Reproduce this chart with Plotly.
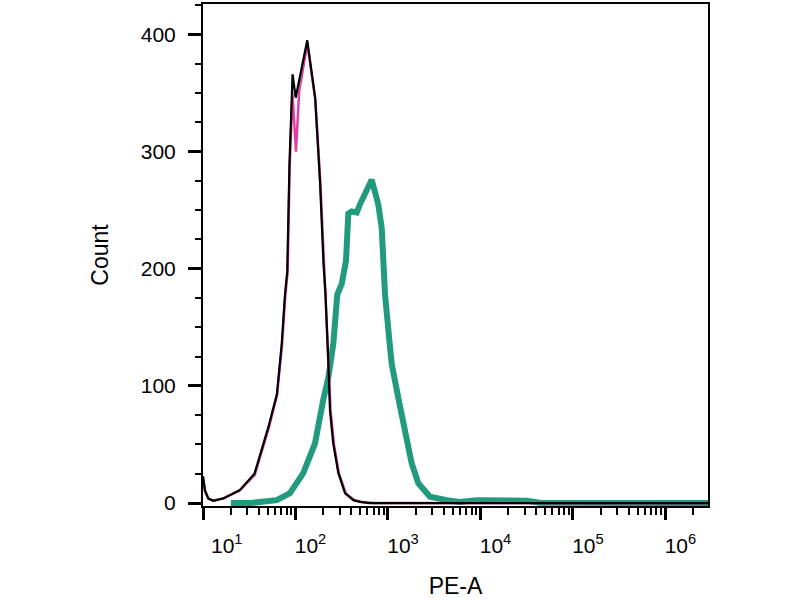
import plotly.graph_objects as go

# PE-A intensity (x) and event count (y)
black_pe = [10, 10.5, 11.4, 12.9, 16.6, 25, 36, 51, 63, 71, 77, 81.5, 86, 93,
            100.5, 134, 163, 184, 201, 211, 226, 236, 256, 290, 343, 422, 498,
            631, 3.0e6]
black_count = [23, 11, 4, 2, 4, 11, 25, 65, 93, 136, 178, 198, 289, 366,
               346, 395, 346, 275, 204, 179, 122, 79, 51, 26, 8.5, 2.5, 1,
               0, 0]

pink_pe = [10, 10.5, 11.4, 12.9, 16.6, 25.1, 36.3, 51.3, 63.1, 71.6, 77.6,
           82.2, 86.5, 92.7, 101.2, 109.6, 134.3, 164.1, 186.2, 204.2, 213.8,
           230.1, 239.9, 260.6, 295.1, 350.8, 436.5, 524.8, 707.9, 3.0e6]
pink_count = [22, 10, 4, 2, 4, 11, 24, 64, 92, 135, 177, 197, 286, 350, 300,
              352, 392, 344, 272, 200, 176, 120, 78, 50, 25, 8, 2.5, 1, 0, 0]

teal_pe = [20, 32.2, 62.7, 87.1, 121.3, 162.6, 199.5, 226.5, 256.4, 283.1,
           316.2, 351.6, 372.4, 405.5, 459.2, 497.7, 666.8, 785.2, 855.1, 929,
           1052, 1096, 1291, 1528, 1803, 2128, 2844, 4315, 6000, 9100, 13650,
           31600, 43950, 3.0e6]
teal_count = [0, 0, 2.5, 8.5, 25.5, 51, 88, 107, 136, 178, 187, 207, 247, 249,
              248, 255, 276, 255, 235, 178, 133, 119, 90, 62, 34, 17, 5.4, 2.5,
              1, 2.5, 2, 2, 0.3, 0]

x_tickvals = [10, 100, 1000, 10000, 100000, 1000000]
x_ticktext = ["\u00a0\u00a0\u00a010<sup>1</sup>", "10<sup>2</sup>",
              "10<sup>3</sup>", "10<sup>4</sup>", "10<sup>5</sup>",
              "10<sup>6</sup>"]
y_tickvals = [0, 100, 200, 300, 400]

fig = go.Figure()
fig.add_scatter(x=teal_pe, y=teal_count, mode="lines",
                line=dict(color="#229a7e", width=6), name="stained")
fig.add_scatter(x=pink_pe, y=pink_count, mode="lines",
                line=dict(color="#e040a0", width=2.5), name="isotype")
fig.add_scatter(x=black_pe, y=black_count, mode="lines",
                line=dict(color="black", width=2.2), name="unstained")

fig.update_layout(
    width=800,
    height=600,
    paper_bgcolor="white",
    plot_bgcolor="white",
    showlegend=False,
    margin=dict(l=203, r=92, t=2, b=94),
    font=dict(family="Liberation Sans, Arial", size=21, color="black"),
)
fig.update_xaxes(
    type="log",
    range=[1, 6.46],
    tickmode="array",
    tickvals=x_tickvals,
    ticktext=x_ticktext,
    ticks="outside",
    ticklen=12,
    tickwidth=3,
    tickcolor="black",
    ticklabelshift=15,
    ticklabelstandoff=8,
    showgrid=False,
    zeroline=False,
    showline=True,
    linecolor="black",
    linewidth=2,
    mirror=True,
    minor=dict(dtick="D1", ticks="outside", ticklen=7, tickwidth=1.5,
               tickcolor="black", showgrid=False),
    title=dict(text="PE-A", font=dict(size=23), standoff=22),
)
fig.update_yaxes(
    range=[-2.5, 426],
    tickmode="array",
    tickvals=y_tickvals,
    ticks="outside",
    ticklen=13,
    tickwidth=3,
    tickcolor="black",
    ticklabelstandoff=8,
    showgrid=False,
    zeroline=False,
    showline=True,
    linecolor="black",
    linewidth=2,
    mirror=True,
    minor=dict(dtick=25, ticks="outside", ticklen=6, tickwidth=1.5,
               tickcolor="black", showgrid=False),
    title=dict(text="Count", font=dict(size=23), standoff=26),
)

fig.write_html("out.html", config={"displayModeBar": False},
               post_script="document.body.style.margin='0px';")
